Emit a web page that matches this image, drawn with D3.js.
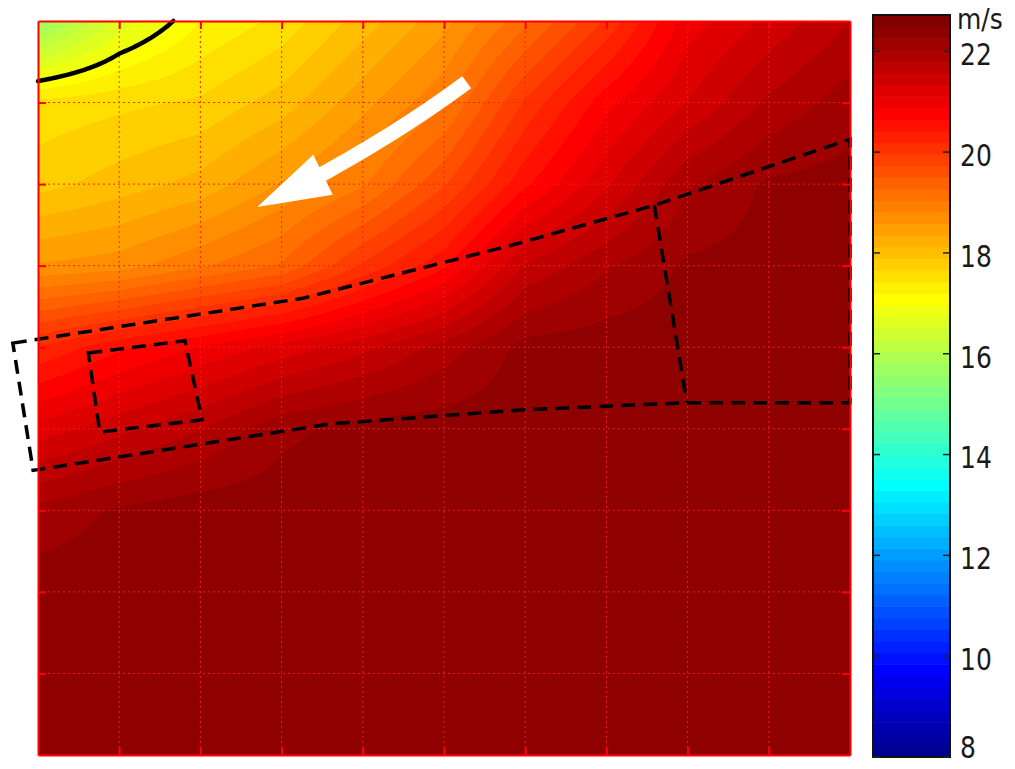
<!DOCTYPE html>
<html>
<head>
<meta charset="utf-8">
<script src="https://cdn.jsdelivr.net/npm/d3@7"></script>
<style>
  html, body { margin: 0; padding: 0; background: #fff; }
  svg { display: block; font-family: "DejaVu Sans", Verdana, sans-serif; }
</style>
</head>
<body>
<svg id="chart" width="1015" height="769"></svg>
<script>
// Wind speed (m/s) sampled on the grid nodes; rows run from the top (y = 9) to the bottom (y = 0),
// columns from x = 0 to x = 10.
const xNodes = [0, 1, 2, 3, 4, 5, 6, 7, 8, 9, 10];
const yNodes = [9, 8, 7, 6, 5, 4, 3, 2, 1, 0];
const speedRows = [
  [15.6, 16.6, 17.2, 17.5, 18.0, 18.5, 19.2, 20.0, 21.0, 21.4, 21.8],
  [17.5, 17.6, 17.7, 18.0, 18.5, 19.0, 20.0, 20.8, 21.35, 21.85, 22.15],
  [17.8, 18.0, 18.2, 18.6, 19.0, 19.7, 20.6, 21.3, 22.0, 22.3, 22.35],
  [18.6, 18.7, 19.0, 19.3, 20.0, 20.6, 21.6, 22.0, 22.3, 22.35, 22.4],
  [20.2, 20.6, 20.9, 21.2, 21.5, 21.9, 22.35, 22.4, 22.4, 22.4, 22.4],
  [21.2, 21.5, 21.8, 22.2, 22.35, 22.4, 22.4, 22.4, 22.4, 22.4, 22.4],
  [22.1, 22.3, 22.4, 22.4, 22.4, 22.4, 22.4, 22.4, 22.4, 22.4, 22.4],
  [22.4, 22.4, 22.4, 22.4, 22.4, 22.4, 22.4, 22.4, 22.4, 22.4, 22.4],
  [22.4, 22.4, 22.4, 22.4, 22.4, 22.4, 22.4, 22.4, 22.4, 22.4, 22.4],
  [22.4, 22.4, 22.4, 22.4, 22.4, 22.4, 22.4, 22.4, 22.4, 22.4, 22.4]
];

// Colour axis
const colorLimits = [8, 22.72];
const colorbarTicks = [8, 10, 12, 14, 16, 18, 20, 22];
const colorbarUnit = "m/s";

// Grid positions
const xGrid = [1, 2, 3, 4, 5, 6, 7, 8, 9];
const yGrid = [1, 2, 3, 4, 5, 6, 7, 8];

// Isotach drawn as a solid line
const contourLevel = 17;

// Outlined areas (x, y in grid units)
const outerRegion = [
  [-0.31, 5.05], [3.26, 5.60], [5.83, 6.25], [7.59, 6.74], [10.0, 7.55],
  [10.0, 4.32], [7.99, 4.32], [5.94, 4.23], [3.60, 4.06], [-0.06, 3.49]
];
const divider = [[7.59, 6.74], [7.99, 4.32]];
const innerBox = [[0.62, 4.93], [1.81, 5.08], [2.02, 4.11], [0.76, 3.96]];

// Flow direction arrow: shaft start, shaft control point, shaft end (inside the head),
// then head tip and the two back corners of the head
const arrowShaft = [[5.28, 8.25], [4.40, 7.60], [3.29, 7.01]];
const arrowHead = [[2.70, 6.72], [3.39, 7.36], [3.63, 6.87]];

// ---------------------------------------------------------------------------
const svg = d3.select("#chart");
const W = 1015, H = 769;
const plot = { left: 38, right: 850, top: 21, bottom: 755 };

const x = d3.scaleLinear().domain([0, 10]).range([plot.left, plot.right]);
const y = d3.scaleLinear().domain([0, 9]).range([plot.bottom, plot.top]);

// MATLAB-style 64-step jet colormap
function jetColor(i) {
  const r = i <= 24 ? 0 : i <= 40 ? (i - 24) / 16 : i <= 55 ? 1 : (72 - i) / 16;
  const g = i <= 8 ? 0 : i <= 24 ? (i - 8) / 16 : i <= 39 ? 1 : i <= 55 ? (56 - i) / 16 : 0;
  const b = i <= 8 ? (i + 8) / 16 : i <= 23 ? 1 : i <= 39 ? (40 - i) / 16 : 0;
  return d3.rgb(Math.round(r * 255), Math.round(g * 255), Math.round(b * 255));
}
const jet = d3.range(1, 65).map(jetColor);
const color = d3.scaleQuantize().domain(colorLimits).range(jet);

// Field value at an arbitrary grid position (bilinear between nodes)
const nCols = xNodes.length, nRows = yNodes.length;
function speedAt(gx, gy) {
  const c = Math.max(0, Math.min(nCols - 1, gx));
  const r = Math.max(0, Math.min(nRows - 1, yNodes[0] - gy));
  const c0 = Math.min(nCols - 2, Math.floor(c)), r0 = Math.min(nRows - 2, Math.floor(r));
  const tc = c - c0, tr = r - r0;
  const a = speedRows[r0][c0], b = speedRows[r0][c0 + 1];
  const d = speedRows[r0 + 1][c0], e = speedRows[r0 + 1][c0 + 1];
  return (a * (1 - tc) + b * tc) * (1 - tr) + (d * (1 - tc) + e * tc) * tr;
}

// Heat map raster
const pw = plot.right - plot.left, ph = plot.bottom - plot.top;
const canvas = document.createElement("canvas");
canvas.width = pw; canvas.height = ph;
const ctx = canvas.getContext("2d");
const img = ctx.createImageData(pw, ph);
for (let py = 0; py < ph; py++) {
  const gy = y.invert(plot.top + py + 0.5);
  for (let px = 0; px < pw; px++) {
    const gx = x.invert(plot.left + px + 0.5);
    const c = color(speedAt(gx, gy));
    const k = (py * pw + px) * 4;
    img.data[k] = c.r; img.data[k + 1] = c.g; img.data[k + 2] = c.b; img.data[k + 3] = 255;
  }
}
ctx.putImageData(img, 0, 0);

svg.append("rect").attr("width", W).attr("height", H).attr("fill", "#fff");
svg.append("image")
  .attr("x", plot.left).attr("y", plot.top)
  .attr("width", pw).attr("height", ph)
  .attr("preserveAspectRatio", "none")
  .attr("href", canvas.toDataURL());

// Dotted grid
const grid = svg.append("g").attr("stroke", "#ff1a1a").attr("stroke-width", 1)
  .attr("stroke-dasharray", "2,3").attr("opacity", 0.9);
grid.selectAll("line.v").data(xGrid).join("line").attr("class", "v")
  .attr("x1", d => x(d)).attr("x2", d => x(d)).attr("y1", plot.top).attr("y2", plot.bottom);
grid.selectAll("line.h").data(yGrid).join("line").attr("class", "h")
  .attr("y1", d => y(d)).attr("y2", d => y(d)).attr("x1", plot.left).attr("x2", plot.right);

// Isotach line traced from the field
const contourPts = [];
for (let gx = 0; gx <= 10; gx += 0.02) {
  if (speedAt(gx, 9) >= contourLevel) {
    // close the line on the top edge
    let lo = gx - 0.02, hi = gx;
    for (let it = 0; it < 30; it++) {
      const m = (lo + hi) / 2;
      if (speedAt(m, 9) < contourLevel) lo = m; else hi = m;
    }
    contourPts.push([(lo + hi) / 2, 9]);
    break;
  }
  let top = 9, bot = 7; // speed increases downward here
  for (let it = 0; it < 30; it++) {
    const m = (top + bot) / 2;
    if (speedAt(gx, m) < contourLevel) top = m; else bot = m;
  }
  contourPts.push([gx, (top + bot) / 2]);
}
svg.append("path")
  .attr("d", d3.line().x(d => x(d[0])).y(d => y(d[1])).curve(d3.curveBasis)(contourPts))
  .attr("fill", "none").attr("stroke", "#000").attr("stroke-width", 4.5)
  .attr("stroke-linecap", "round");

// Flow arrow
const arrow = svg.append("g").attr("fill", "#fff");
arrow.append("path")
  .attr("d", `M${x(arrowShaft[0][0])},${y(arrowShaft[0][1])}Q${x(arrowShaft[1][0])},${y(arrowShaft[1][1])} ${x(arrowShaft[2][0])},${y(arrowShaft[2][1])}`)
  .attr("fill", "none").attr("stroke", "#fff").attr("stroke-width", 15);
arrow.append("polygon")
  .attr("points", arrowHead.map(p => [x(p[0]), y(p[1])].join(",")).join(" "));

// Dashed outlines
const dashed = { stroke: "#000", width: 3.5, dash: "14,8" };
const toPts = pts => pts.map(p => [x(p[0]), y(p[1])].join(",")).join(" ");
svg.append("polygon").attr("points", toPts(outerRegion))
  .attr("fill", "none").attr("stroke", dashed.stroke).attr("stroke-width", dashed.width)
  .attr("stroke-dasharray", dashed.dash);
svg.append("polyline").attr("points", toPts(divider))
  .attr("fill", "none").attr("stroke", dashed.stroke).attr("stroke-width", dashed.width)
  .attr("stroke-dasharray", dashed.dash);
svg.append("polygon").attr("points", toPts(innerBox))
  .attr("fill", "none").attr("stroke", dashed.stroke).attr("stroke-width", dashed.width)
  .attr("stroke-dasharray", dashed.dash);

// Axes frame with inward ticks and no labels
const axisColor = "#ff0000";
const tickLen = 8;
function styleAxis(g) {
  g.selectAll("path.domain").attr("stroke", axisColor).attr("stroke-width", 2);
  g.selectAll(".tick line").attr("stroke", axisColor).attr("stroke-width", 2);
  g.selectAll(".tick text").remove();
}
svg.append("g").attr("transform", `translate(0,${plot.bottom})`)
  .call(d3.axisBottom(x).tickValues(xGrid).tickSize(-tickLen).tickSizeOuter(0).tickFormat(""))
  .call(styleAxis);
svg.append("g").attr("transform", `translate(0,${plot.top})`)
  .call(d3.axisTop(x).tickValues(xGrid).tickSize(-tickLen).tickSizeOuter(0).tickFormat(""))
  .call(styleAxis);
svg.append("g").attr("transform", `translate(${plot.left},0)`)
  .call(d3.axisLeft(y).tickValues(yGrid).tickSize(-tickLen).tickSizeOuter(0).tickFormat(""))
  .call(styleAxis);
svg.append("g").attr("transform", `translate(${plot.right},0)`)
  .call(d3.axisRight(y).tickValues(yGrid).tickSize(-tickLen).tickSizeOuter(0).tickFormat(""))
  .call(styleAxis);

// Colour bar
const cb = { left: 873, right: 950, top: 15, bottom: 757 };
const cy = d3.scaleLinear().domain(colorLimits).range([cb.bottom, cb.top]);
const step = (colorLimits[1] - colorLimits[0]) / jet.length;
const cbG = svg.append("g");
cbG.selectAll("rect").data(jet).join("rect")
  .attr("x", cb.left).attr("width", cb.right - cb.left)
  .attr("y", (d, i) => cy(colorLimits[0] + (i + 1) * step))
  .attr("height", (d, i) => cy(colorLimits[0] + i * step) - cy(colorLimits[0] + (i + 1) * step) + 0.6)
  .attr("fill", d => d);
cbG.append("rect")
  .attr("x", cb.left).attr("y", cb.top)
  .attr("width", cb.right - cb.left).attr("height", cb.bottom - cb.top)
  .attr("fill", "none").attr("stroke", "#111").attr("stroke-width", 2);
const cbTicks = cbG.selectAll("g.t").data(colorbarTicks).join("g").attr("class", "t");
cbTicks.append("line").attr("x1", cb.left).attr("x2", cb.left + 7)
  .attr("y1", d => cy(d)).attr("y2", d => cy(d)).attr("stroke", "#222").attr("stroke-width", 1.5);
cbTicks.append("line").attr("x1", cb.right - 7).attr("x2", cb.right)
  .attr("y1", d => cy(d)).attr("y2", d => cy(d)).attr("stroke", "#222").attr("stroke-width", 1.5);
// labels sit just below their ticks; the lowest one is lifted to stay inside the figure
cbTicks.append("text")
  .attr("transform", d => `translate(960,${Math.min(cy(d) + 3, 747)}) scale(1,1.2)`)
  .attr("dy", "0.36em")
  .attr("font-size", 25).attr("fill", "#1a1a1a")
  .text(d => d);
svg.append("text")
  .attr("transform", "translate(957,29) scale(1,1.15)")
  .attr("font-size", 25).attr("fill", "#1a1a1a").text(colorbarUnit);
</script>
</body>
</html>
